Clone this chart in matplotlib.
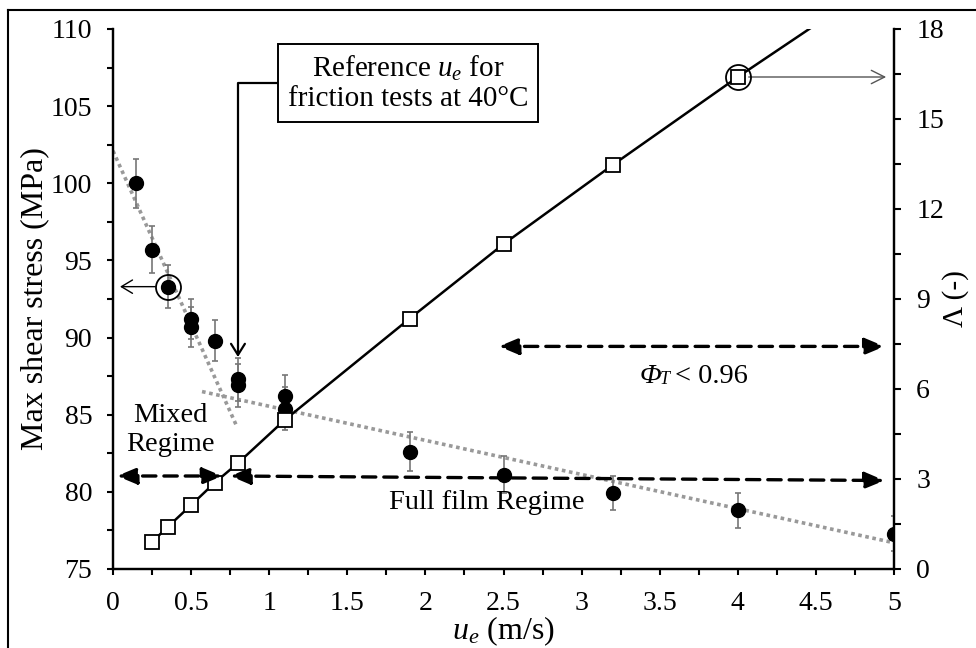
import matplotlib
matplotlib.use('Agg')
import matplotlib.pyplot as plt
from matplotlib.lines import Line2D

plt.rcParams['font.family'] = ['Liberation Serif', 'DejaVu Serif']
plt.rcParams['mathtext.fontset'] = 'custom'
plt.rcParams['mathtext.rm'] = 'Liberation Serif'
plt.rcParams['mathtext.it'] = 'Liberation Serif:italic'
plt.rcParams['font.size'] = 20

# max shear stress (left axis), with error bars
ue_tau = [0.15, 0.25, 0.35, 0.5, 0.5, 0.65, 0.8, 0.8, 1.1, 1.1, 1.9, 2.5, 3.2, 4.0, 5.0]
tau = [100.0, 95.7, 93.3, 91.2, 90.7, 89.8, 87.3, 86.9, 86.2, 85.4, 82.6, 81.1, 79.9, 78.8, 77.3]
tau_err = [1.6, 1.5, 1.4, 1.3, 1.3, 1.35, 1.4, 1.4, 1.4, 1.4, 1.25, 1.2, 1.1, 1.15, 1.15]

# lambda ratio (right axis)
ue_lam = [0.25, 0.35, 0.5, 0.65, 0.8, 1.1, 1.9, 2.5, 3.2, 4.0]
lam = [0.9, 1.4, 2.13, 2.87, 3.53, 4.97, 8.35, 10.83, 13.47, 16.4]
lam_ext_x = [4.0, 4.6]
lam_ext = [16.4, 18.5]

# grey dotted regime trend lines
trend1_x = [0.0, 0.79]
trend1_y = [102.1, 84.3]
trend2_x = [0.57, 5.0]
trend2_y = [86.5, 76.7]

# highlighted points
hl_tau = (0.35, 93.3)
hl_lam = (4.0, 16.4)

fig = plt.figure(figsize=(9.76, 6.48), dpi=100)
ax = fig.add_axes([113/976, 1-569/648, 781/976, 540/648])
ax2 = ax.twinx()

grey = '#999999'
ax.plot(trend1_x, trend1_y, color=grey, lw=2.6, ls=(0, (1, 1)), zorder=2)
ax.plot(trend2_x, trend2_y, color=grey, lw=2.6, ls=(0, (1, 1)), zorder=2)
ax.errorbar(ue_tau, tau, yerr=tau_err, fmt='o', color='black', ms=10,
            ecolor='#777777', elinewidth=1.2, capsize=2.5, capthick=1.2, zorder=3)
ax.plot(*hl_tau, 'o', ms=18, mfc='none', mec='black', mew=1.3, zorder=4)

ax2.plot(lam_ext_x, lam_ext, color='black', lw=1.8, zorder=2)
ax2.plot(ue_lam, lam, color='black', lw=1.8, marker='s', ms=9.5,
         mfc='white', mec='black', mew=1.3, zorder=3)
ax2.plot(*hl_lam, 'o', ms=18, mfc='none', mec='black', mew=1.3, zorder=4)

ax.set_xlim(0, 5)
ax.set_ylim(75, 110)
ax2.set_ylim(0, 18)
ax.set_xticks([0, 0.5, 1, 1.5, 2, 2.5, 3, 3.5, 4, 4.5, 5])
ax.set_xticklabels(['0', '0.5', '1', '1.5', '2', '2.5', '3', '3.5', '4', '4.5', '5'])
ax.set_xticks([i * 0.25 for i in range(21)], minor=True)
ax.set_yticks(range(75, 111, 5))
ax.set_yticks([75 + i * 2.5 for i in range(15)], minor=True)
ax2.set_yticks(range(0, 19, 3))
ax2.set_yticks([i * 1.5 for i in range(13)], minor=True)

for a in (ax, ax2):
    a.spines['top'].set_visible(False)
    for s in a.spines.values():
        s.set_linewidth(1.6)
    a.tick_params(which='both', direction='out', length=4, width=1.5)
ax.tick_params(axis='y', which='major', pad=11)
ax.tick_params(axis='x', which='major', pad=12)
ax2.tick_params(axis='y', which='major', pad=11)
ax2.tick_params(axis='y', which='both', length=5)

ax.set_ylabel('Max shear stress (MPa)', fontsize=23)
ax.yaxis.set_label_coords(-0.082, 0.5)
ax.set_xlabel(r'$u_e$ (m/s)', fontsize=23)
ax.xaxis.set_label_coords(0.5, -0.085)
ax2.set_ylabel('Λ (-)', fontsize=21)
ax2.yaxis.set_label_coords(1.062, 0.5)

# annotations
ax.annotate('Reference $u_e$ for\nfriction tests at 40°C', xy=(0.8, 88.74), xytext=(1.889, 106.5),
            fontsize=21, ha='center', va='center', linespacing=1.15,
            bbox=dict(boxstyle='square,pad=0.33', fc='white', ec='black', lw=1.4),
            arrowprops=dict(arrowstyle='->,head_length=0.4,head_width=0.25', mutation_scale=20,
                            connectionstyle='angle,angleA=180,angleB=90,rad=0',
                            color='black', lw=1.6, shrinkA=0, shrinkB=0))
ax.annotate('', xy=(0.045, hl_tau[1]), xytext=(0.27, hl_tau[1]),
            arrowprops=dict(arrowstyle='->,head_length=0.5,head_width=0.3', mutation_scale=16,
                            color='black', lw=1.0, shrinkA=0, shrinkB=0))
ax2.annotate('', xy=(4.95, hl_lam[1]), xytext=(4.07, hl_lam[1]),
             arrowprops=dict(arrowstyle='->,head_length=0.6,head_width=0.3', mutation_scale=16,
                             color='#555555', lw=1.0, shrinkA=0, shrinkB=0))

dash = dict(arrowstyle='<|-|>,head_length=0.6,head_width=0.25', mutation_scale=20,
            color='black', lw=2.4, ls=(0, (4, 2.4)), shrinkA=0, shrinkB=0)
ax2.annotate('', xy=(0.70, 3.1), xytext=(0.025, 3.1), arrowprops=dash)
ax2.annotate('', xy=(4.94, 2.95), xytext=(0.75, 3.1), arrowprops=dash)
ax2.annotate('', xy=(4.94, 7.42), xytext=(2.47, 7.42), arrowprops=dash)

ax.text(0.365, 84.0, 'Mixed\nRegime', fontsize=20.5, ha='center', va='center', linespacing=1.2)
ax.text(2.39, 79.3, 'Full film Regime', fontsize=20.5, ha='center', va='center')

t1 = ax2.text(3.37, 6.2, 'Φ', fontsize=20.5, fontstyle='italic', ha='left', va='baseline')
t2 = ax2.annotate('T', xy=(1, 0), xycoords=t1, xytext=(-1, 1), textcoords='offset points',
                  fontsize=13, fontstyle='italic', ha='left', va='bottom')
ax2.annotate('< 0.96', xy=(1, 0), xycoords=t1, xytext=(10, 0), textcoords='offset points',
             fontsize=20.5, ha='left', va='bottom')

# outer frame
fig.add_artist(Line2D([8/976, 8/976], [0, 1-10/648], color='black', lw=1.5))
fig.add_artist(Line2D([8/976, 1], [1-10/648, 1-10/648], color='black', lw=1.5))

fig.savefig('out.png', dpi=100)
